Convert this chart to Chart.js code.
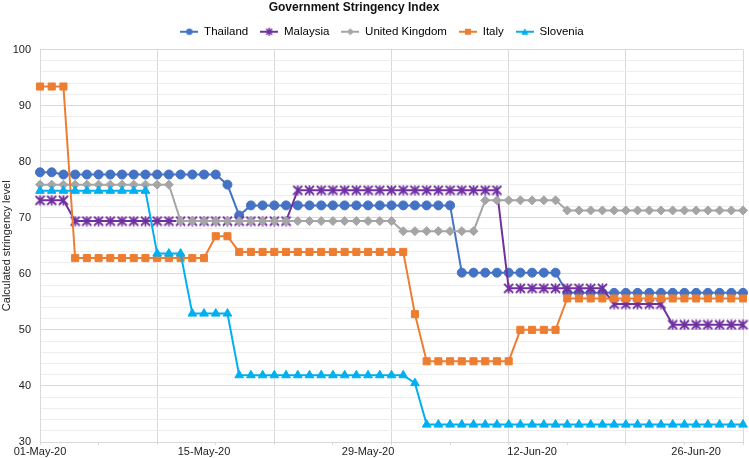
<!DOCTYPE html>
<html>
<head>
<meta charset="utf-8">
<title>Government Stringency Index</title>
<script src="https://cdn.jsdelivr.net/npm/chart.js@4.4.1/dist/chart.umd.min.js"></script>
<style>
    html, body { margin: 0; padding: 0; background: #fff; }
    #wrap { width: 749px; height: 458px; }
</style>
</head>
<body>
<div id="wrap"><canvas id="mainChart" width="749" height="458"></canvas></div>
<script>
// Chart data
const chartTitle = 'Government Stringency Index';
const yAxisTitle = 'Calculated stringency level';

// one label per day, 01-May-20 .. 30-Jun-20
const dates = [];
for (let d = 1; d <= 31; d++) dates.push(String(d).padStart(2, '0') + '-May-20');
for (let d = 1; d <= 30; d++) dates.push(String(d).padStart(2, '0') + '-Jun-20');

const thailand = [
    78.1, 78.1, 77.7, 77.7, 77.7, 77.7, 77.7, 77.7, 77.7, 77.7,
    77.7, 77.7, 77.7, 77.7, 77.7, 77.7, 75.9, 70.4, 72.2, 72.2,
    72.2, 72.2, 72.2, 72.2, 72.2, 72.2, 72.2, 72.2, 72.2, 72.2,
    72.2, 72.2, 72.2, 72.2, 72.2, 72.2, 60.2, 60.2, 60.2, 60.2,
    60.2, 60.2, 60.2, 60.2, 60.2, 56.6, 56.6, 56.6, 56.6, 56.6,
    56.6, 56.6, 56.6, 56.6, 56.6, 56.6, 56.6, 56.6, 56.6, 56.6,
    56.6
];
const malaysia = [
    73.1, 73.1, 73.1, 69.4, 69.4, 69.4, 69.4, 69.4, 69.4, 69.4,
    69.4, 69.4, 69.4, 69.4, 69.4, 69.4, 69.4, 69.4, 69.4, 69.4,
    69.4, 69.4, 74.9, 74.9, 74.9, 74.9, 74.9, 74.9, 74.9, 74.9,
    74.9, 74.9, 74.9, 74.9, 74.9, 74.9, 74.9, 74.9, 74.9, 74.9,
    57.4, 57.4, 57.4, 57.4, 57.4, 57.4, 57.4, 57.4, 57.4, 54.6,
    54.6, 54.6, 54.6, 54.6, 50.9, 50.9, 50.9, 50.9, 50.9, 50.9,
    50.9
];
const unitedKingdom = [
    75.9, 75.9, 75.9, 75.9, 75.9, 75.9, 75.9, 75.9, 75.9, 75.9,
    75.9, 75.9, 69.4, 69.4, 69.4, 69.4, 69.4, 69.4, 69.4, 69.4,
    69.4, 69.4, 69.4, 69.4, 69.4, 69.4, 69.4, 69.4, 69.4, 69.4,
    69.4, 67.6, 67.6, 67.6, 67.6, 67.6, 67.6, 67.6, 73.1, 73.1,
    73.1, 73.1, 73.1, 73.1, 73.1, 71.3, 71.3, 71.3, 71.3, 71.3,
    71.3, 71.3, 71.3, 71.3, 71.3, 71.3, 71.3, 71.3, 71.3, 71.3,
    71.3
];
const italy = [
    93.4, 93.4, 93.4, 62.8, 62.8, 62.8, 62.8, 62.8, 62.8, 62.8,
    62.8, 62.8, 62.8, 62.8, 62.8, 66.7, 66.7, 63.9, 63.9, 63.9,
    63.9, 63.9, 63.9, 63.9, 63.9, 63.9, 63.9, 63.9, 63.9, 63.9,
    63.9, 63.9, 52.8, 44.4, 44.4, 44.4, 44.4, 44.4, 44.4, 44.4,
    44.4, 50.0, 50.0, 50.0, 50.0, 55.6, 55.6, 55.6, 55.6, 55.6,
    55.6, 55.6, 55.6, 55.6, 55.6, 55.6, 55.6, 55.6, 55.6, 55.6,
    55.6
];
const slovenia = [
    74.8, 74.8, 74.8, 74.8, 74.8, 74.8, 74.8, 74.8, 74.8, 74.8,
    63.6, 63.6, 63.6, 52.9, 52.9, 52.9, 52.9, 41.9, 41.9, 41.9,
    41.9, 41.9, 41.9, 41.9, 41.9, 41.9, 41.9, 41.9, 41.9, 41.9,
    41.9, 41.9, 40.5, 33.1, 33.1, 33.1, 33.1, 33.1, 33.1, 33.1,
    33.1, 33.1, 33.1, 33.1, 33.1, 33.1, 33.1, 33.1, 33.1, 33.1,
    33.1, 33.1, 33.1, 33.1, 33.1, 33.1, 33.1, 33.1, 33.1, 33.1,
    33.1
];

const FONT = '"Liberation Sans", Arial, Helvetica, sans-serif';
const GRID_MAJOR = '#d9d9d9';
const GRID_MINOR = '#eeeeee';
const CLEAR = 'rgba(0,0,0,0)';

// Excel-like "star" marker: an X with a vertical bar
function starMarker(color, size) {
    const c = document.createElement('canvas');
    c.width = size; c.height = size;
    const g = c.getContext('2d');
    g.strokeStyle = color;
    g.lineWidth = 1.8;
    const m = size / 2, r = size / 2 - 1;
    g.beginPath();
    g.moveTo(m - r, m - r); g.lineTo(m + r, m + r);
    g.moveTo(m + r, m - r); g.lineTo(m - r, m + r);
    g.moveTo(m, 0.5); g.lineTo(m, size - 0.5);
    g.stroke();
    return c;
}

// small line + marker picture for the legend
function legendIcon(color, style) {
    const c = document.createElement('canvas');
    c.width = 18; c.height = 10;
    const g = c.getContext('2d');
    g.strokeStyle = color;
    g.fillStyle = color;
    g.lineWidth = 2;
    g.beginPath(); g.moveTo(0, 5); g.lineTo(18, 5); g.stroke();
    g.beginPath();
    if (style === 'circle') {
        g.arc(9, 5, 3.2, 0, Math.PI * 2); g.fill();
    } else if (style === 'rect') {
        g.fillRect(6, 2, 6, 6);
    } else if (style === 'rectRot') {
        g.moveTo(9, 1.5); g.lineTo(12.5, 5); g.lineTo(9, 8.5); g.lineTo(5.5, 5); g.closePath(); g.fill();
    } else if (style === 'triangle') {
        g.moveTo(9, 1.5); g.lineTo(12.5, 8); g.lineTo(5.5, 8); g.closePath(); g.fill();
    } else {
        g.lineWidth = 1.5;
        g.moveTo(6, 2); g.lineTo(12, 8);
        g.moveTo(12, 2); g.lineTo(6, 8);
        g.moveTo(9, 1); g.lineTo(9, 9);
        g.stroke();
    }
    return c;
}

function makeSeries(label, data, color, style, radius, order) {
    const marker = style === 'star' ? starMarker(color, 11) : style;
    return {
        label: label,
        data: data,
        borderColor: color,
        backgroundColor: color,
        borderWidth: 2,
        tension: 0,
        pointStyle: marker,
        pointRadius: radius,
        pointHoverRadius: radius,
        pointBorderWidth: 1,
        order: order,
        legendStyle: style
    };
}

const datasets = [
    makeSeries('Thailand', thailand, '#4472C4', 'circle', 4.5, 5),
    makeSeries('Malaysia', malaysia, '#7030A0', 'star', 5, 4),
    makeSeries('United Kingdom', unitedKingdom, '#A5A5A5', 'rectRot', 4.5, 3),
    makeSeries('Italy', italy, '#ED7D31', 'rect', 5, 2),
    makeSeries('Slovenia', slovenia, '#00B0F0', 'triangle', 5, 1)
];

// title drawn left of centre as in the reference
const titlePlugin = {
    id: 'sheetTitle',
    afterDraw(chart) {
        const ctx = chart.ctx;
        ctx.save();
        ctx.font = 'bold 12px ' + FONT;
        ctx.fillStyle = '#111';
        ctx.textAlign = 'center';
        ctx.textBaseline = 'middle';
        ctx.fillText(chartTitle, 354, 8);
        ctx.restore();
    }
};

// nudge the legend a little right and up
const legendShift = {
    id: 'legendShift',
    afterLayout(chart) {
        if (chart.legend) {
            chart.legend.left += 10;
            chart.legend.right += 10;
            chart.legend.top -= 2;
            chart.legend.bottom -= 2;
        }
    }
};

Chart.defaults.font.family = FONT;
Chart.defaults.color = '#404040';

const chart = new Chart(document.getElementById('mainChart'), {
    type: 'line',
    data: { labels: dates, datasets: datasets },
    plugins: [titlePlugin, legendShift],
    options: {
        responsive: false,
        animation: false,
        layout: { padding: { top: 16, right: 5, left: 0, bottom: 0 } },
        plugins: {
            title: { display: false },
            tooltip: { enabled: false },
            legend: {
                display: true,
                position: 'top',
                labels: {
                    usePointStyle: true,
                    pointStyleWidth: 18,
                    padding: 12,
                    color: '#222',
                    font: { size: 11.5 },
                    generateLabels: (ch) => ch.data.datasets.map((ds, i) => ({
                        text: ds.label,
                        pointStyle: legendIcon(ds.borderColor, ds.legendStyle),
                        fillStyle: ds.borderColor,
                        strokeStyle: ds.borderColor,
                        lineWidth: 0,
                        hidden: false,
                        datasetIndex: i
                    }))
                }
            }
        },
        scales: {
            x: {
                type: 'category',
                offset: false,
                afterFit: (scale) => { scale.height = 16; },
                border: { color: GRID_MAJOR },
                grid: {
                    color: (c) => (c.index % 10 === 0 ? GRID_MAJOR : CLEAR),
                    tickColor: (c) => (c.index % 5 === 0 ? GRID_MAJOR : CLEAR),
                    tickLength: 3,
                    drawTicks: true
                },
                ticks: {
                    autoSkip: false,
                    maxRotation: 0,
                    minRotation: 0,
                    padding: 0,
                    color: '#222',
                    font: { size: 11 },
                    callback: (value, index) => (index % 14 === 0 ? dates[index] : '')
                }
            },
            y: {
                min: 30,
                max: 100,
                afterFit: (scale) => { scale.width = 40; },
                border: { color: GRID_MAJOR },
                grid: {
                    color: (c) => (c.tick && c.tick.value % 10 === 0 ? GRID_MAJOR : GRID_MINOR),
                    drawTicks: false
                },
                ticks: {
                    stepSize: 2,
                    autoSkip: false,
                    padding: 9,
                    color: '#222',
                    font: { size: 11 },
                    callback: (value) => (value % 10 === 0 ? value : '')
                },
                title: {
                    display: true,
                    text: yAxisTitle,
                    color: '#222',
                    font: { size: 11, lineHeight: 1.1 },
                    padding: { top: 1, bottom: 0 }
                }
            }
        }
    }
});
</script>
</body>
</html>
